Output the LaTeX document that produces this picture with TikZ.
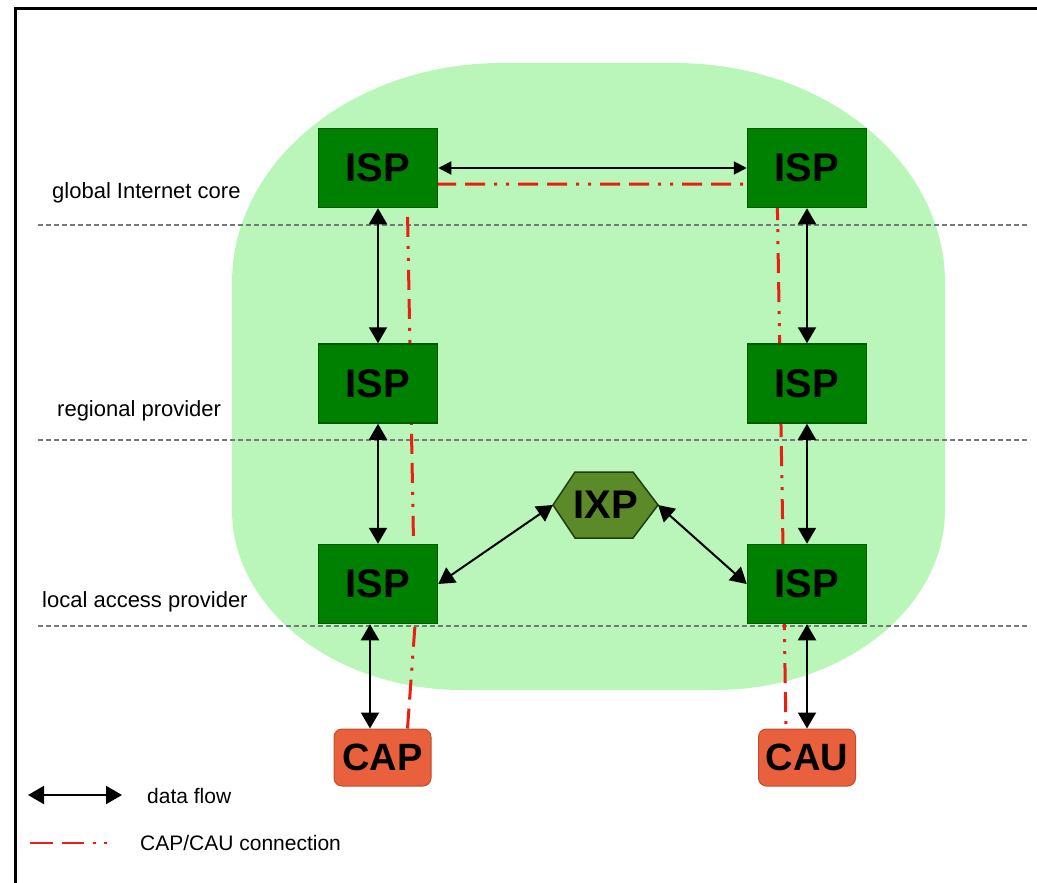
\documentclass[tikz,border=0pt]{standalone}
\usepackage{fontspec}
\setmainfont{Liberation Sans}
\usetikzlibrary{arrows.meta}
\definecolor{blob}{RGB}{186,246,186}
\definecolor{ispfill}{RGB}{0,128,0}
\definecolor{ispdraw}{RGB}{0,92,0}
\definecolor{ixpfill}{RGB}{92,138,40}
\definecolor{ixpdraw}{RGB}{30,60,15}
\definecolor{capfill}{RGB}{232,96,60}
\definecolor{capdraw}{RGB}{190,78,48}
\definecolor{conn}{RGB}{235,30,20}
\definecolor{layer}{RGB}{120,120,120}
\begin{document}
\begin{tikzpicture}[x=1pt,y=-1pt,
  isp/.style={fill=ispfill,draw=ispdraw,line width=1.5pt,minimum width=119pt,minimum height=79pt,inner sep=0pt,font=\fontsize{40}{40}\selectfont\bfseries},
  endbox/.style={fill=capfill,draw=capdraw,line width=1pt,rounded corners=8pt,minimum width=97pt,minimum height=57pt,inner sep=0pt,font=\fontsize{38}{38}\selectfont\bfseries},
  ixptext/.style={inner sep=0pt,font=\fontsize{40}{40}\selectfont\bfseries},
  flow/.style={{Triangle[length=16pt,width=18pt]}-{Triangle[length=16pt,width=18pt]},line width=2pt},
  flowsmall/.style={{Triangle[length=13pt,width=13pt]}-{Triangle[length=13pt,width=13pt]},line width=2pt},
  capline/.style={draw=conn,line width=3pt,dash pattern=on 20pt off 9pt on 20pt off 9pt on 3pt off 9pt on 3pt off 9pt},
  legline/.style={draw=conn,line width=2pt,dash pattern=on 23pt off 9pt on 22pt off 9pt on 3pt off 8pt on 3pt off 8pt},
  layerline/.style={draw=layer,line width=1.2pt,dash pattern=on 5pt off 3pt},
  lbl/.style={inner sep=0pt,font=\fontsize{22}{24}\selectfont},
  leg/.style={inner sep=0pt,font=\fontsize{21}{23}\selectfont}
]
\useasboundingbox (0,0) rectangle (1037,883);
% frame
\draw[line width=3pt] (15,883) -- (15,9) -- (1037,9);
% green cloud
\fill[blob] (502,63) .. controls (353,63) and (232,161) .. (232,283)
  -- (232,510) .. controls (232,609) and (335,690) .. (462,690)
  -- (715,690) .. controls (842,690) and (945,609) .. (945,510)
  -- (945,283) .. controls (945,161) and (824,63) .. (675,63) -- cycle;
% layer separators
\draw[layerline] (38,225) -- (1030,225);
\draw[layerline] (38,440) -- (1030,440);
\draw[layerline] (38,626) -- (1030,626);
% layer labels
\node[lbl,anchor=base west] (l1) at (52,198) {global Internet core};
\node[lbl,anchor=base west] (l2) at (57,416) {regional provider};
\node[lbl,anchor=base west] (l3) at (42,607) {local access provider};
% end boxes
\node[endbox] (cap) at (382.5,757.5) {CAP};
\node[endbox] (cau) at (807,757.5) {CAU};
% CAP/CAU connection
\coordinate (r1) at (415,625);
\coordinate (r2) at (407,184);
\coordinate (r3) at (777,184);
\draw[capline] ([xshift=25pt]cap.north) -- (r1) -- (r2) -- (r3) -- ([xshift=-21pt]cau.north);
% ISP boxes
\node[isp] (ispL1) at (378,168) {ISP};
\node[isp] (ispL2) at (378,383.5) {ISP};
\node[isp] (ispL3) at (378,584) {ISP};
\node[isp] (ispR1) at (807,168) {ISP};
\node[isp] (ispR2) at (807,383.5) {ISP};
\node[isp] (ispR3) at (807,584) {ISP};
% IXP
\coordinate (ixpL) at (553,505);
\coordinate (ixpR) at (658,505);
\filldraw[fill=ixpfill,draw=ixpdraw,line width=1.5pt] (ixpL) -- (575,472) -- (633,472) -- (ixpR) -- (633,538) -- (575,538) -- cycle;
\node[ixptext] (ixp) at (605.5,505) {IXP};
% data flows
\draw[flowsmall] (ispL1.east) -- (ispR1.west);
\draw[flow] (ispL1.south) -- (ispL2.north);
\draw[flow] (ispL2.south) -- (ispL3.north);
\draw[flow] (ispR1.south) -- (ispR2.north);
\draw[flow] (ispR2.south) -- (ispR3.north);
\draw[flow] ([xshift=-8pt]ispL3.south) -- ([xshift=-8pt]ispL3.south |- cap.north);
\draw[flow] (ispR3.south) -- (cau.north);
\draw[flow] (ixpL) -- (ispL3.east);
\draw[flow] (ixpR) -- (ispR3.west);
% legend
\coordinate (la) at (28,795);
\coordinate (lb) at (122,795);
\draw[flow] (la) -- (lb);
\node[leg,anchor=base west] (t1) at (147,803) {data flow};
\coordinate (lc) at (30,843);
\coordinate (ld) at (112,843);
\draw[legline] (lc) -- (ld);
\node[leg,anchor=base west] (t2) at (140,850) {CAP/CAU connection};
\end{tikzpicture}
\end{document}
